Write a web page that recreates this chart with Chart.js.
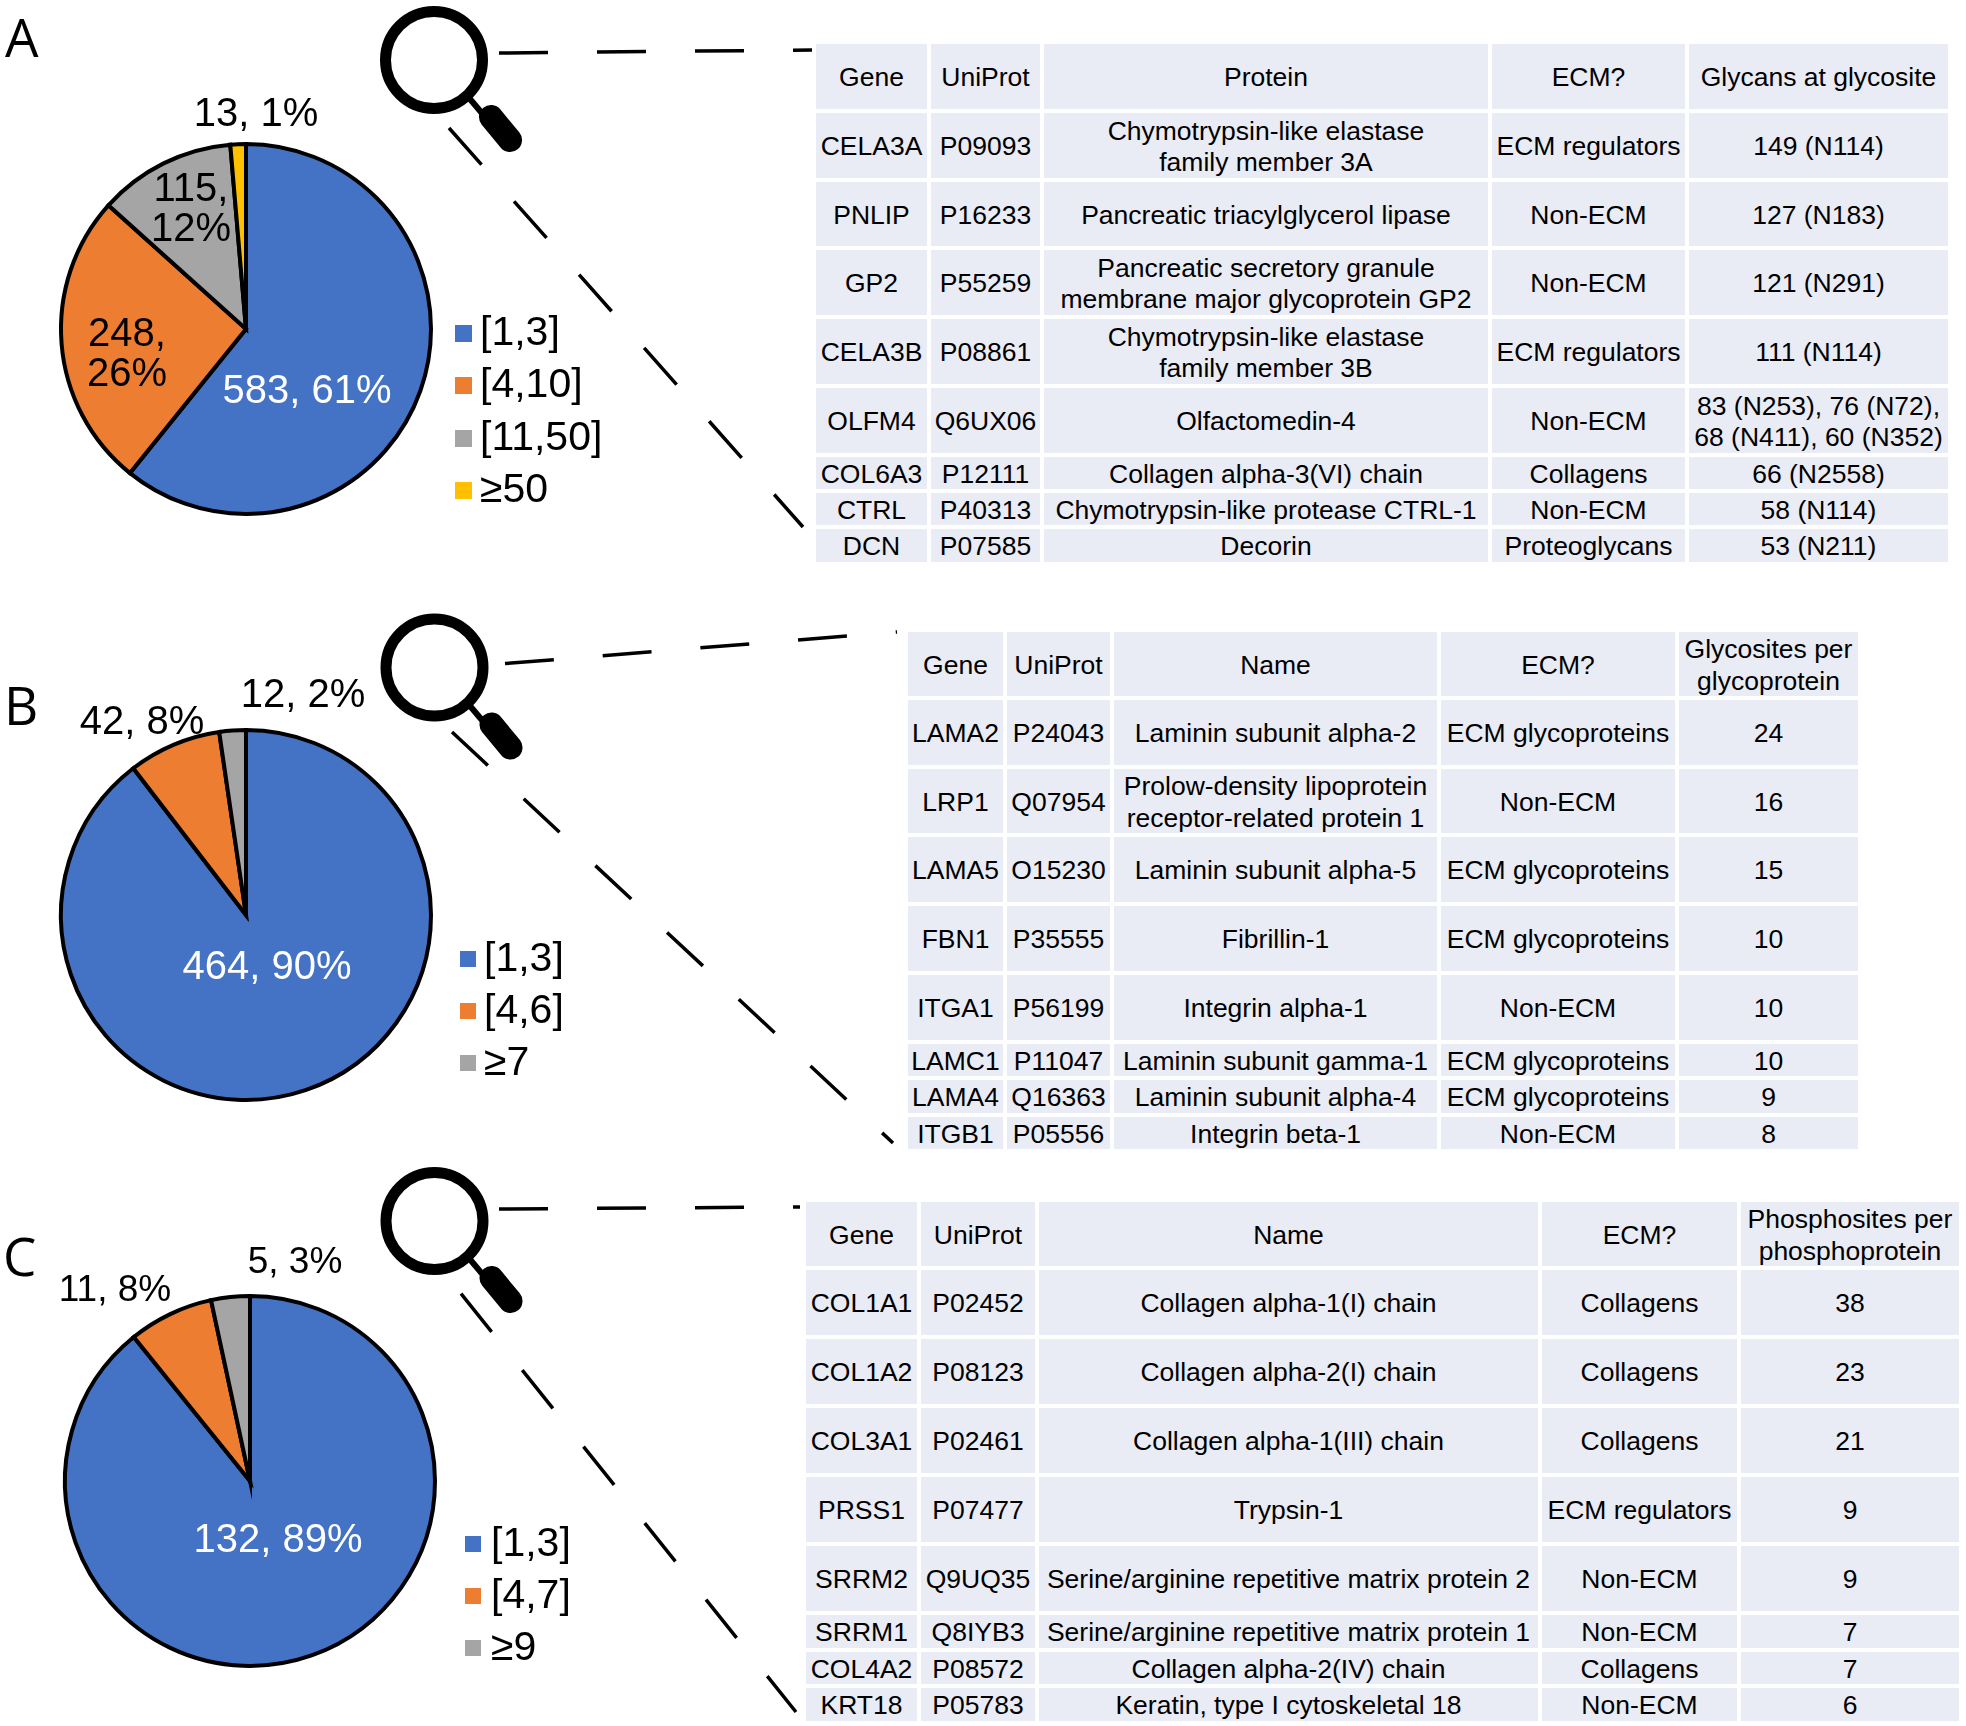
<!DOCTYPE html>
<html lang="en">
<head>
    <meta charset="UTF-8">
    <title>ECM glycoproteins and phosphoproteins</title>
    <script src="https://cdn.jsdelivr.net/npm/chart.js"></script>
    <style>
        html, body { margin: 0; padding: 0; background: #fff; }
        body { position: relative; width: 1966px; height: 1726px; overflow: hidden; font-family: "Liberation Sans", Arial, sans-serif; color: #000; }
        canvas { position: absolute; }
        svg { position: absolute; left: 0; top: 0; }
        .letter { position: absolute; font-family: "Open Sans", sans-serif; font-size: 53px; line-height: 53px; }
        .legend-item { position: absolute; display: flex; align-items: center; height: 50px; font-size: 41px; white-space: nowrap; }
        .legend-box { position: absolute; left: 0; width: 17px; height: 17px; }
        table { position: absolute; table-layout: fixed; border-collapse: separate; border-spacing: 4px; font-size: 26.5px; line-height: 31.5px; }
        td { background: #e9ebf5; padding: 0; text-align: center; white-space: pre; overflow: visible; }
        td span { position: relative; top: 1.5px; }
    </style>
</head>
<body>
<script>
    const seriesColors = ['#4472C4', '#ED7D31', '#A5A5A5', '#FFC000'];

    // Panel A
    const rangesA = ['[1,3]', '[4,10]', '[11,50]', '≥50'];
    const countsA = [583, 248, 115, 13];
    const percentsA = [61, 26, 12, 1];
    const headerA = ['Gene', 'UniProt', 'Protein', 'ECM?', 'Glycans at glycosite'];
    const genesA = ['CELA3A', 'PNLIP', 'GP2', 'CELA3B', 'OLFM4', 'COL6A3', 'CTRL', 'DCN'];
    const uniprotA = ['P09093', 'P16233', 'P55259', 'P08861', 'Q6UX06', 'P12111', 'P40313', 'P07585'];
    const proteinsA = ['Chymotrypsin-like elastase\nfamily member 3A', 'Pancreatic triacylglycerol lipase', 'Pancreatic secretory granule\nmembrane major glycoprotein GP2', 'Chymotrypsin-like elastase\nfamily member 3B', 'Olfactomedin-4', 'Collagen alpha-3(VI) chain', 'Chymotrypsin-like protease CTRL-1', 'Decorin'];
    const ecmA = ['ECM regulators', 'Non-ECM', 'Non-ECM', 'ECM regulators', 'Non-ECM', 'Collagens', 'Non-ECM', 'Proteoglycans'];
    const glycansA = ['149 (N114)', '127 (N183)', '121 (N291)', '111 (N114)', '83 (N253), 76 (N72),\n68 (N411), 60 (N352)', '66 (N2558)', '58 (N114)', '53 (N211)'];

    // Panel B
    const rangesB = ['[1,3]', '[4,6]', '≥7'];
    const countsB = [464, 42, 12];
    const percentsB = [90, 8, 2];
    const headerB = ['Gene', 'UniProt', 'Name', 'ECM?', 'Glycosites per\nglycoprotein'];
    const genesB = ['LAMA2', 'LRP1', 'LAMA5', 'FBN1', 'ITGA1', 'LAMC1', 'LAMA4', 'ITGB1'];
    const uniprotB = ['P24043', 'Q07954', 'O15230', 'P35555', 'P56199', 'P11047', 'Q16363', 'P05556'];
    const namesB = ['Laminin subunit alpha-2', 'Prolow-density lipoprotein\nreceptor-related protein 1', 'Laminin subunit alpha-5', 'Fibrillin-1', 'Integrin alpha-1', 'Laminin subunit gamma-1', 'Laminin subunit alpha-4', 'Integrin beta-1'];
    const ecmB = ['ECM glycoproteins', 'Non-ECM', 'ECM glycoproteins', 'ECM glycoproteins', 'Non-ECM', 'ECM glycoproteins', 'ECM glycoproteins', 'Non-ECM'];
    const sitesB = ['24', '16', '15', '10', '10', '10', '9', '8'];

    // Panel C
    const rangesC = ['[1,3]', '[4,7]', '≥9'];
    const countsC = [132, 11, 5];
    const percentsC = [89, 8, 3];
    const headerC = ['Gene', 'UniProt', 'Name', 'ECM?', 'Phosphosites per\nphosphoprotein'];
    const genesC = ['COL1A1', 'COL1A2', 'COL3A1', 'PRSS1', 'SRRM2', 'SRRM1', 'COL4A2', 'KRT18'];
    const uniprotC = ['P02452', 'P08123', 'P02461', 'P07477', 'Q9UQ35', 'Q8IYB3', 'P08572', 'P05783'];
    const namesC = ['Collagen alpha-1(I) chain', 'Collagen alpha-2(I) chain', 'Collagen alpha-1(III) chain', 'Trypsin-1', 'Serine/arginine repetitive matrix protein 2', 'Serine/arginine repetitive matrix protein 1', 'Collagen alpha-2(IV) chain', 'Keratin, type I cytoskeletal 18'];
    const ecmC = ['Collagens', 'Collagens', 'Collagens', 'ECM regulators', 'Non-ECM', 'Non-ECM', 'Collagens', 'Non-ECM'];
    const sitesC = ['38', '23', '21', '9', '9', '7', '7', '6'];

    // Layout only from here down
    const panels = [
        {
            letter: 'A', letterX: 5, letterY: 10, cx: 246, cy: 329,
            ranges: rangesA, counts: countsA, percents: percentsA,
            labelOffsets: [[61, 63], [-119, 26], [-55, -119], [10, -214]],
            labelSizes: [40, 40, 40, 40],
            labelWrap: [false, true, true, false],
            legend: { boxX: 455, textX: 480, boxSize: 17, ys: [331, 383, 436, 488] },
            table: {
                x: 816, y: 44, rows: [65, 65, 64, 65, 65, 65, 32, 32, 33], cols: [111, 109, 444, 193, 259],
                header: headerA, columns: [genesA, uniprotA, proteinsA, ecmA, glycansA]
            },
            glass: [434, 60],
            dashes: [[499, 53, 812, 50], [449, 128, 803, 527]]
        },
        {
            letter: 'B', letterX: 4, letterY: 678, cx: 246, cy: 915,
            ranges: rangesB, counts: countsB, percents: percentsB,
            labelOffsets: [[21, 53], [-104, -192], [57, -219]],
            labelSizes: [40, 40, 40],
            labelWrap: [false, false, false],
            legend: { boxX: 460, textX: 484, boxSize: 16, ys: [957, 1009, 1061] },
            table: {
                x: 908, y: 632, rows: [64, 65, 64, 65, 65, 65, 32, 33, 32], cols: [95, 103, 323, 234, 179],
                header: headerB, columns: [genesB, uniprotB, namesB, ecmB, sitesB]
            },
            glass: [434.5, 667.5],
            dashes: [[505, 663.6, 897, 632], [452, 732, 893, 1143]]
        },
        {
            letter: 'C', letterX: 3, letterY: 1229, cx: 250, cy: 1481,
            ranges: rangesC, counts: countsC, percents: percentsC,
            labelOffsets: [[28, 60], [-135, -190], [45, -218]],
            labelSizes: [40, 37, 37],
            labelWrap: [false, false, false],
            legend: { boxX: 465, textX: 491, boxSize: 16, ys: [1542, 1594, 1646] },
            table: {
                x: 806, y: 1202, rows: [64, 65, 65, 65, 65, 65, 33, 32, 33], cols: [111, 114, 499, 195, 218],
                header: headerC, columns: [genesC, uniprotC, namesC, ecmC, sitesC]
            },
            glass: [434.5, 1221],
            dashes: [[499, 1209, 800, 1207], [461, 1293.6, 796, 1712]]
        }
    ];

    // Labels were placed by hand in the original, so they sit at offsets from the pie centre
    const pieLabels = {
        id: 'pieLabels',
        afterDraw(chart, args, opts) {
            const ctx = chart.ctx;
            const center = chart.getDatasetMeta(0).data[0];
            ctx.save();
            ctx.textAlign = 'center';
            ctx.textBaseline = 'middle';
            opts.counts.forEach((count, i) => {
                const x = center.x + opts.offsets[i][0];
                const y = center.y + opts.offsets[i][1];
                ctx.font = opts.sizes[i] + 'px "Liberation Sans", Arial, sans-serif';
                ctx.fillStyle = i === 0 ? '#fff' : '#000';
                if (opts.wrap[i]) {
                    ctx.fillText(count + ',', x, y - 20);
                    ctx.fillText(opts.percents[i] + '%', x, y + 20);
                } else {
                    ctx.fillText(count + ', ' + opts.percents[i] + '%', x, y);
                }
            });
            ctx.restore();
        }
    };

    function drawPie(p) {
        const canvas = document.createElement('canvas');
        canvas.width = 492;
        canvas.height = 520;
        canvas.style.left = (p.cx - 246) + 'px';
        canvas.style.top = (p.cy - 260) + 'px';
        document.body.appendChild(canvas);
        const chart = new Chart(canvas.getContext('2d'), {
            type: 'pie',
            data: {
                labels: p.ranges,
                datasets: [{
                    data: p.counts,
                    backgroundColor: seriesColors.slice(0, p.counts.length),
                    borderColor: '#000',
                    borderWidth: 4,
                    borderJoinStyle: 'miter'
                }]
            },
            options: {
                responsive: false,
                animation: false,
                layout: { padding: { left: 59, right: 59, top: 73, bottom: 73 } },
                plugins: {
                    legend: { display: false },
                    tooltip: { enabled: false },
                    pieLabels: { counts: p.counts, percents: p.percents, offsets: p.labelOffsets, wrap: p.labelWrap, sizes: p.labelSizes }
                }
            },
            plugins: [pieLabels]
        });
        // HTML legend built from the chart's own legend items
        const items = Chart.overrides.pie.plugins.legend.labels.generateLabels(chart);
        items.forEach((item, i) => {
            const box = document.createElement('div');
            box.className = 'legend-box';
            box.style.cssText = `left:${p.legend.boxX}px;top:${p.legend.ys[i] + 2 - p.legend.boxSize / 2}px;width:${p.legend.boxSize}px;height:${p.legend.boxSize}px;background:${item.fillStyle}`;
            document.body.appendChild(box);
            const text = document.createElement('div');
            text.className = 'legend-item';
            text.textContent = item.text;
            text.style.left = p.legend.textX + 'px';
            text.style.top = (p.legend.ys[i] - 25) + 'px';
            document.body.appendChild(text);
        });
    }

    function drawTable(t) {
        const table = document.createElement('table');
        table.style.left = (t.x - 4) + 'px';
        table.style.top = (t.y - 4) + 'px';
        table.style.width = (t.cols.reduce((a, b) => a + b + 4, 4)) + 'px';
        const colgroup = document.createElement('colgroup');
        t.cols.forEach(w => {
            const col = document.createElement('col');
            col.style.width = w + 'px';
            colgroup.appendChild(col);
        });
        table.appendChild(colgroup);
        t.rows.forEach((h, r) => {
            const tr = document.createElement('tr');
            tr.style.height = h + 'px';
            const cells = r === 0 ? t.header : t.columns.map(c => c[r - 1]);
            cells.forEach(v => {
                const td = document.createElement('td');
                td.style.height = h + 'px';
                const span = document.createElement('span');
                span.textContent = v;
                td.appendChild(span);
                tr.appendChild(td);
            });
            table.appendChild(tr);
        });
        document.body.appendChild(table);
    }

    function drawDecor(p, svg) {
        const [gx, gy] = p.glass;
        let s = `<circle cx="${gx}" cy="${gy}" r="48.5" fill="none" stroke="#000" stroke-width="11"/>`;
        s += `<line x1="${gx + 36}" y1="${gy + 39}" x2="${gx + 52}" y2="${gy + 58}" stroke="#000" stroke-width="6"/>`;
        s += `<line x1="${gx + 57}" y1="${gy + 57}" x2="${gx + 76}" y2="${gy + 80}" stroke="#000" stroke-width="24" stroke-linecap="round"/>`;
        p.dashes.forEach(d => {
            s += `<line x1="${d[0]}" y1="${d[1]}" x2="${d[2]}" y2="${d[3]}" stroke="#000" stroke-width="3.5" stroke-dasharray="49 49"/>`;
        });
        svg.innerHTML += s;
    }

    const overlay = document.createElementNS('http://www.w3.org/2000/svg', 'svg');
    overlay.setAttribute('width', 1966);
    overlay.setAttribute('height', 1726);
    document.body.appendChild(overlay);

    panels.forEach(p => {
        const letter = document.createElement('div');
        letter.className = 'letter';
        letter.textContent = p.letter;
        letter.style.left = p.letterX + 'px';
        letter.style.top = p.letterY + 'px';
        document.body.appendChild(letter);
        drawDecor(p, overlay);
        drawPie(p);
        drawTable(p.table);
    });
</script>
</body>
</html>
